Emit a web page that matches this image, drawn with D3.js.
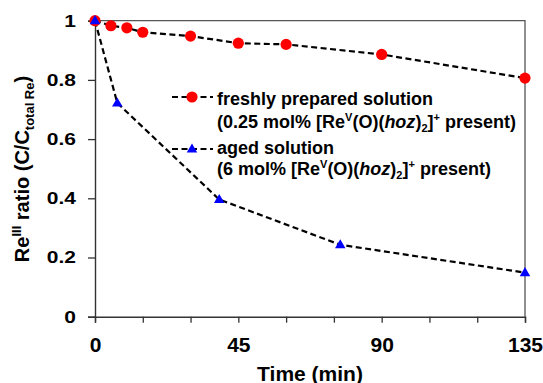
<!DOCTYPE html>
<html>
<meta charset="utf-8">
<head>
  <script src="https://d3js.org/d3.v7.min.js"></script>
</head>
<style>
  body { margin: 0; background: white; }
  text { font-family: 'Liberation Sans', Arial, sans-serif; font-weight: bold; fill: #000; }
</style>
<body>
<script>
  // data
  var freshTime  = [0, 5, 10, 15, 30, 45, 60, 90, 135];
  var freshRatio = [1.0, 0.983, 0.976, 0.961, 0.948, 0.924, 0.920, 0.886, 0.806];
  var agedTime   = [0, 7, 39, 77, 135];
  var agedRatio  = [1.0, 0.722, 0.396, 0.243, 0.149];
  var xTicks = [0, 45, 90, 135];
  var yTicks = [0, 0.2, 0.4, 0.6, 0.8, 1];

  var w = 543, h = 383;
  var svg = d3.select("body").append("svg")
              .attr("width", w)
              .attr("height", h);

  var x = d3.scaleLinear().domain([0, 135]).range([95, 525]);
  var y = d3.scaleLinear().domain([0, 1]).range([316.7, 20.7]);

  // frame (top / right)
  svg.append("path")
     .attr("d", "M" + x(0) + "," + y(1) + "H" + x(135) + "V" + y(0))
     .attr("fill", "none")
     .attr("stroke", "#555")
     .attr("stroke-width", 1.3);

  // x axis
  var xAxis = svg.append("g")
     .attr("transform", "translate(0," + y(0) + ")")
     .call(d3.axisBottom(x).tickValues(d3.range(0, 136, 15)).tickSize(6).tickFormat(function(d) {
        return xTicks.indexOf(d) >= 0 ? d : "";
     }));
  xAxis.selectAll("text").attr("font-size", 21).attr("dy", "1.24em")
     .attr("font-family", "'Liberation Sans', Arial, sans-serif").attr("font-weight", "bold");

  // y axis (labels in the reference are squashed vertically)
  var yAxis = svg.append("g")
     .attr("transform", "translate(" + x(0) + ",0)")
     .call(d3.axisLeft(y).tickValues(yTicks).tickSize(7).tickFormat(function(d) { return d; }));
  yAxis.selectAll("text").attr("font-size", 21).attr("x", -19)
     .attr("transform", "scale(1,0.8)")
     .attr("font-family", "'Liberation Sans', Arial, sans-serif").attr("font-weight", "bold");

  [xAxis, yAxis].forEach(function(a) {
    a.select(".domain").attr("stroke", "#333").attr("stroke-width", 1.4);
    a.selectAll(".tick line").attr("stroke", "#333").attr("stroke-width", 1.3);
  });

  var line = d3.line().x(function(d) { return x(d[0]); }).y(function(d) { return y(d[1]); });

  var fresh = freshTime.map(function(t, i) { return [t, freshRatio[i]]; });
  var aged  = agedTime.map(function(t, i) { return [t, agedRatio[i]]; });

  [fresh, aged].forEach(function(s) {
    svg.append("path").datum(s).attr("d", line)
       .attr("fill", "none").attr("stroke", "#000")
       .attr("stroke-width", 2.2).attr("stroke-dasharray", "6,3.5");
  });

  var tri = d3.symbol().type(d3.symbolTriangle).size(48);

  svg.selectAll("circle.fresh").data(fresh).enter().append("circle")
     .attr("class", "fresh")
     .attr("cx", function(d) { return x(d[0]); })
     .attr("cy", function(d) { return y(d[1]); })
     .attr("r", 5.6)
     .attr("fill", "#ff0000");

  svg.selectAll("path.aged").data(aged).enter().append("path")
     .attr("class", "aged")
     .attr("d", tri)
     .attr("transform", function(d) { return "translate(" + x(d[0]) + "," + (y(d[1]) + 0.5) + ")"; })
     .attr("fill", "#0000ff");

  // legend
  var leg = svg.append("g");
  function legLine(yy) {
    leg.append("line").attr("x1", 172).attr("x2", 213).attr("y1", yy).attr("y2", yy)
       .attr("stroke", "#000").attr("stroke-width", 2.2).attr("stroke-dasharray", "6,3.5");
  }
  legLine(97);
  leg.append("circle").attr("cx", 192).attr("cy", 97).attr("r", 5.6).attr("fill", "#ff0000");
  legLine(149);
  leg.append("path").attr("d", tri).attr("transform", "translate(192,149.5)").attr("fill", "#0000ff");

  function comp(yy, prefix) {
    var t = leg.append("text").attr("x", 217).attr("y", yy).attr("font-size", 18);
    t.append("tspan").text(prefix + " [Re");
    t.append("tspan").attr("font-size", 11).attr("dy", -7).text("V");
    t.append("tspan").attr("dy", 7).text("(O)(");
    t.append("tspan").attr("font-style", "italic").text("hoz");
    t.append("tspan").text(")");
    t.append("tspan").attr("font-size", 11).attr("dy", 4).text("2");
    t.append("tspan").attr("dy", -4).text("]");
    t.append("tspan").attr("font-size", 11).attr("dy", -7).text("+");
    t.append("tspan").attr("dy", 7).text(" present)");
  }
  leg.append("text").attr("x", 217).attr("y", 105).attr("font-size", 18).text("freshly prepared solution");
  comp(128, "(0.25 mol%");
  leg.append("text").attr("x", 217).attr("y", 153.5).attr("font-size", 18).text("aged solution");
  comp(175, "(6 mol%");

  // axis titles
  svg.append("text").attr("x", 310).attr("y", 380.5).attr("text-anchor", "middle")
     .attr("font-size", 21).text("Time (min)");

  var yl = svg.append("text").attr("transform", "translate(28.5,169) rotate(-90)")
     .attr("text-anchor", "middle").attr("font-size", 20);
  yl.append("tspan").text("Re");
  yl.append("tspan").attr("font-size", 13).attr("dy", -8).text("III");
  yl.append("tspan").attr("dy", 8).text(" ratio (C/C");
  yl.append("tspan").attr("font-size", 13).attr("dy", 5).text("total Re");
  yl.append("tspan").attr("dy", -5).text(")");
</script>
</body>
</html>
